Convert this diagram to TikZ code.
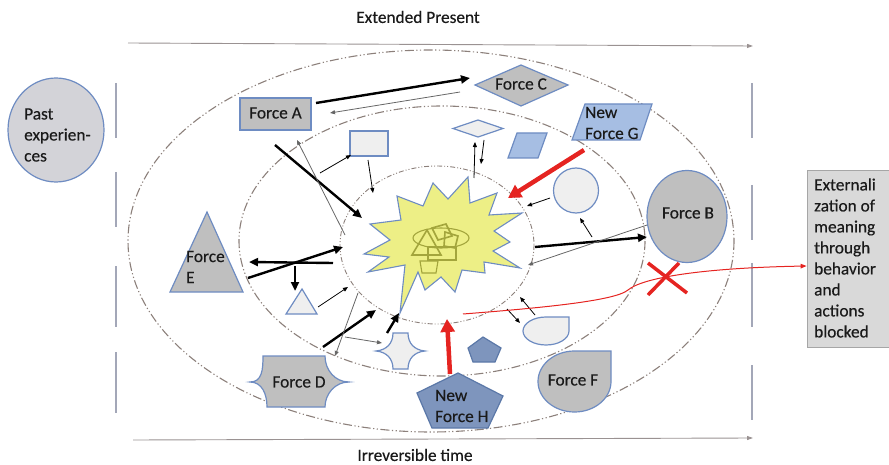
\documentclass[tikz,border=0pt]{standalone}
\usepackage{fontspec}
\setmainfont{Carlito}
\newfontfamily\labelfont{Carlito}[FakeBold=0.35]
\usetikzlibrary{arrows.meta,shapes.geometric}

\definecolor{ringc}{HTML}{8C807B}
\definecolor{timec}{HTML}{9A9292}
\definecolor{barc}{HTML}{A3A7B8}
\definecolor{edgec}{HTML}{6E8CC2}
\definecolor{forcegray}{HTML}{BFBFBF}
\definecolor{pastgray}{HTML}{D3D3D8}
\definecolor{lightfill}{HTML}{EFEFEF}
\definecolor{newblue}{HTML}{A6BEE3}
\definecolor{hblue}{HTML}{7E95BD}
\definecolor{hedge}{HTML}{5B78A8}
\definecolor{starfill}{HTML}{EDEF86}
\definecolor{olive}{HTML}{A3A53C}
\definecolor{redc}{HTML}{E52421}
\definecolor{boxfill}{HTML}{D9D9D9}
\definecolor{boxedge}{HTML}{A6A6A6}
\definecolor{txt}{HTML}{1A1A1A}

\tikzset{
  lbl/.style={text=txt, inner sep=0pt, font=\labelfont\fontsize{17.3}{21}\selectfont, align=left},
  outerring/.style={draw=ringc, line width=1.1pt,
    dash pattern=on 9pt off 2.5pt on 1.2pt off 2.5pt on 1.2pt off 2.5pt},
  innerring/.style={draw=ringc, line width=0.9pt,
    dash pattern=on 5pt off 2pt on 1pt off 2pt on 1pt off 2pt},
  timeline/.style={draw=timec, line width=0.9pt, -{Triangle[length=6pt,width=4pt]}},
  bar/.style={draw=barc, line width=2.2pt},
  forceshape/.style={draw=edgec, line width=1.2pt, fill=forcegray},
  lightshape/.style={draw=edgec, line width=1.2pt, fill=lightfill},
  newshape/.style={draw=edgec, line width=1.2pt, fill=newblue},
  hshape/.style={draw=hedge, line width=1.2pt, fill=hblue},
  thickarrow/.style={draw=black, line width=2.4pt, -{Triangle[length=9pt,width=8pt]}},
  thinarrow/.style={draw=black, line width=0.8pt, -{Triangle[length=5pt,width=4pt]}},
  grayarrow/.style={draw=black!60, line width=0.8pt, -{Triangle[length=5pt,width=4pt]}},
  redarrow/.style={draw=redc, line width=4.5pt, -{Triangle[length=13pt,width=14pt]}},
  logo/.style={draw=olive, line width=1.6pt}
}

\begin{document}
\begin{tikzpicture}[x=1pt, y=-1pt]
\useasboundingbox (0,0) rectangle (889,465);

% time axis and headings
\coordinate (tl) at (128,43);
\coordinate (tr) at (753,46);
\coordinate (bl) at (133,440);
\coordinate (br) at (753,438);
\draw[timeline] (tl) -- (tr);
\draw[timeline] (bl) -- (br);
\node[lbl] (present) at (418,17) {Extended Present};
\node[lbl] (irrev) at (415,455) {Irreversible time};

% bracket bars on both sides
\foreach \ya/\yb in {83/138, 172/227, 266/327, 352/413}
  \draw[bar] (116,\ya) -- (116,\yb);
\foreach \ya/\yb in {83/138, 185/240, 263/327, 365/420}
  \draw[bar] (752,\ya) -- (752,\yb);

% nested rings
\draw[outerring] (431,241) ellipse [x radius=303, y radius=191];
\draw[outerring] (442,241) ellipse [x radius=203, y radius=135];
\draw[innerring] (437,245) ellipse [x radius=97, y radius=79];

% past experiences
\node[ellipse, draw=edgec, line width=1.2pt, fill=pastgray,
      minimum width=96pt, minimum height=104pt] (past) at (56,130) {};
\node[lbl, anchor=west] (pasttext) at (24,135) {Past\\experien-\\ces};

% externalization box
\node[draw=boxedge, line width=0.8pt, fill=boxfill, minimum width=82pt,
      minimum height=177pt, inner sep=0pt] (ext) at (848,258.5) {};
\node[lbl, anchor=west] (exttext) at (814,258) {Externali\\zation of\\meaning\\through\\behavior\\and\\actions\\blocked};

% Force A and small rectangle
\node[forceshape, minimum width=71pt, minimum height=32pt, inner sep=0pt] (fA) at (275.5,114) {};
\node[lbl] (fAtext) at (275.5,113) {Force A};
\node[lightshape, minimum width=38pt, minimum height=25pt, inner sep=0pt] (srect) at (369,143.5) {};

% Force C diamond and small diamond
\draw[forceshape] (475,85) -- (521,65) -- (568,85) -- (521,106) -- cycle;
\node[lbl] (fC) at (521,84) {Force C};
\draw[lightshape] (453,128.5) -- (478,120) -- (503,128.5) -- (478,137) -- cycle;

% New Force G and small parallelogram
\draw[newshape] (585,104) -- (652,104) -- (640,140) -- (572,140) -- cycle;
\node[lbl, anchor=west] (fG) at (585,123) {New\\Force G};
\draw[newshape] (517,133) -- (547,133) -- (538,158) -- (508,158) -- cycle;

% small circle and Force B
\node[circle, draw=edgec, line width=1.2pt, fill=lightfill, minimum size=45pt, inner sep=0pt] (scirc) at (576,190.5) {};
\node[ellipse, draw=edgec, line width=1.2pt, fill=forcegray,
      minimum width=80pt, minimum height=92pt, inner sep=0pt] (fB) at (687,216.5) {};
\node[lbl] (fBtext) at (688,213) {Force B};

% Force E and small triangle
\draw[forceshape] (207,212) -- (243,292) -- (170,292) -- cycle;
\node[lbl, anchor=west] (fE) at (186,267) {Force\\E};
\draw[lightshape] (302,289) -- (317,314) -- (286,314) -- cycle;

% Force D and small plaque
\draw[forceshape] (263,356) -- (325,356)
  .. controls (325,370) and (335,382) .. (349,382)
  .. controls (335,382) and (325,394) .. (325,407)
  -- (267,407)
  .. controls (267,394) and (262,382) .. (250,382)
  .. controls (262,382) and (263,370) .. (263,356) -- cycle;
\node[lbl] (fD) at (299,382) {Force D};
\draw[lightshape] (393,333) -- (408,333)
  .. controls (408,343) and (414,350) .. (425,351)
  .. controls (414,352) and (408,359) .. (408,369)
  -- (393,369)
  .. controls (393,359) and (387,352) .. (376,351)
  .. controls (387,350) and (393,343) .. (393,333) -- cycle;

% New Force H and small pentagon
\draw[hshape] (458,373) -- (503,396) -- (488,428) -- (432,428) -- (417,393) -- cycle;
\node[lbl, anchor=west] (fH) at (435,406) {New\\Force H};
\draw[hshape] (483,337) -- (501,348) -- (495,362) -- (473,362) -- (468,348) -- cycle;

% teardrops: small one and Force F
\draw[lightshape] (569,317) -- (569,331)
  .. controls (569,338.7) and (558.7,345) .. (546,345)
  .. controls (533.3,345) and (523,338.7) .. (523,331)
  .. controls (523,323.3) and (533.3,317) .. (546,317) -- cycle;
\draw[forceshape] (611,351) -- (611,381.5)
  .. controls (611,398.3) and (594.7,412) .. (574.5,412)
  .. controls (554.3,412) and (538,398.3) .. (538,381.5)
  .. controls (538,364.7) and (554.3,351) .. (574.5,351) -- cycle;
\node[lbl] (fF) at (573,380) {Force F};

% central burst with its emblem
\draw[draw=edgec, line width=1.1pt, fill=starfill]
  (397,196) -- (423,206) -- (433,183) -- (448,199) -- (468,177) -- (470,203)
  -- (497,193) -- (489,215) -- (522,213) -- (494,231) -- (510,242) -- (493,251)
  -- (520,268) -- (484,262) -- (485,273) -- (462,270) -- (455,292) -- (441,277)
  -- (425,290) -- (418,272) -- (400,313) -- (405,265) -- (368,272) -- (389,257)
  -- (364,254) -- (390,240) -- (370,224) -- (401,220) -- cycle;
\draw[logo, line width=1.1pt] (441,238) ellipse [x radius=28, y radius=10];
\draw[logo] (412,255) -- (441,255) -- (427,230) -- cycle;
\draw[logo] (432,228) -- (446,224) -- (452,236) -- (438,240) -- cycle;
\draw[logo] (428,247) rectangle (456,260);
\draw[logo] (445,232) -- (458,236) -- (455,248) -- (444,246) -- cycle;
\draw[logo, line width=1.1pt] (420,261) -- (438,261) -- (436,273) -- (422,273) -- cycle;

% connectors, upper half
\coordinate (a1s) at (316,103); \coordinate (a1e) at (470,78);
\coordinate (a2s) at (460,92);  \coordinate (a2e) at (330,113);
\coordinate (a3s) at (275,145); \coordinate (a3e) at (362,218);
\coordinate (a4s) at (345,235); \coordinate (a4e) at (297,140);
\coordinate (a5s) at (320,173); \coordinate (a5e) at (351,155);
\coordinate (a6s) at (368,160); \coordinate (a6e) at (373,193);
\coordinate (a7s) at (474,178); \coordinate (a7e) at (475,142);
\coordinate (a8s) at (484,140); \coordinate (a8e) at (481,164);
\coordinate (a9s) at (584,150); \coordinate (a9e) at (508,198);
\coordinate (a10s) at (550,198); \coordinate (a10e) at (527,206);
\coordinate (a11s) at (592,237); \coordinate (a11e) at (580,218);
\coordinate (a12s) at (535,247); \coordinate (a12e) at (647,237);
\coordinate (a13s) at (647,225); \coordinate (a13e) at (528,265);
\draw[thickarrow] (a1s) -- (a1e);
\draw[grayarrow] (a2s) -- (a2e);
\draw[thickarrow] (a3s) -- (a3e);
\draw[grayarrow] (a4s) -- (a4e);
\draw[thinarrow] (a5s) -- (a5e);
\draw[thinarrow] (a6s) -- (a6e);
\draw[thinarrow] (a7s) -- (a7e);
\draw[thinarrow] (a8s) -- (a8e);
\draw[redarrow] (a9s) -- (a9e);
\draw[thinarrow] (a10s) -- (a10e);
\draw[thinarrow] (a11s) -- (a11e);
\draw[thickarrow] (a12s) -- (a12e);
\draw[grayarrow] (a13s) -- (a13e);

% connectors, lower half
\coordinate (b1s) at (535,315); \coordinate (b1e) at (520,297);
\coordinate (b2s) at (507,309); \coordinate (b2e) at (520,323);
\coordinate (b3s) at (450,374); \coordinate (b3e) at (447,319);
\coordinate (b4s) at (248,278); \coordinate (b4e) at (343,247);
\coordinate (b5s) at (333,263); \coordinate (b5e) at (249,262);
\coordinate (b6s) at (295,266); \coordinate (b6e) at (295,291);
\coordinate (b7s) at (318,307); \coordinate (b7e) at (348,287);
\coordinate (b8s) at (323,347); \coordinate (b8e) at (376,310);
\coordinate (b9s) at (358,293); \coordinate (b9e) at (335,356);
\coordinate (b10s) at (345,337); \coordinate (b10e) at (382,343);
\coordinate (b11s) at (387,333); \coordinate (b11e) at (399,313);
\draw[thinarrow] (b1s) -- (b1e);
\draw[thinarrow] (b2s) -- (b2e);
\draw[redarrow] (b3s) -- (b3e);
\draw[thickarrow] (b4s) -- (b4e);
\draw[thickarrow] (b5s) -- (b5e);
\draw[thickarrow] (b6s) -- (b6e);
\draw[thinarrow] (b7s) -- (b7e);
\draw[thickarrow] (b8s) -- (b8e);
\draw[grayarrow] (b9s) -- (b9e);
\draw[grayarrow] (b10s) -- (b10e);
\draw[thickarrow] (b11s) -- (b11e);

% blocked path towards externalization
\coordinate (rs) at (463,314);
\draw[draw=redc, line width=1pt, -{Triangle[length=6pt,width=4.5pt]}]
  (rs) .. controls (540,308) and (615,301) .. (628,290)
  .. controls (642,278) and (700,268) .. (ext.west |- 0,266);
\coordinate (x1) at (648,263); \coordinate (x2) at (687,293);
\coordinate (x3) at (679,263); \coordinate (x4) at (648,295);
\draw[draw=redc, line width=3.5pt] (x1) -- (x2);
\draw[draw=redc, line width=3.5pt] (x3) -- (x4);

\end{tikzpicture}
\end{document}
